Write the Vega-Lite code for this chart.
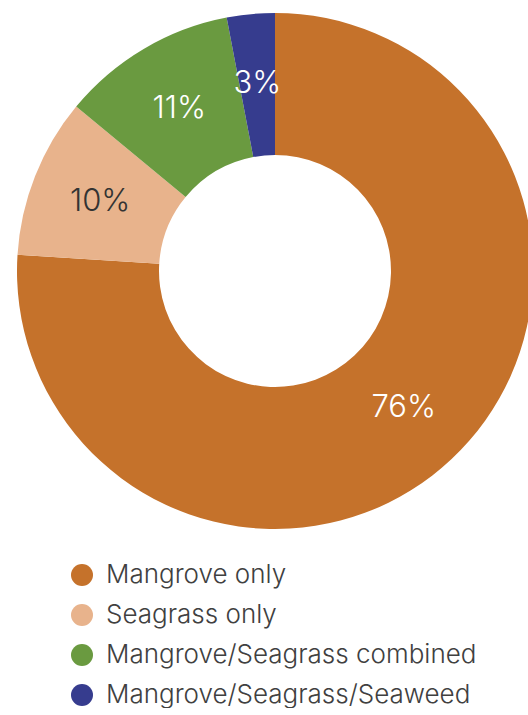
{
  "$schema": "https://vega.github.io/schema/vega-lite/v6.json",
  "width": 550,
  "height": 542,
  "padding": 0,
  "autosize": {"type": "pad"},
  "background": "white",
  "view": {"stroke": null},
  "config": {"font": "Inter"},
  "data": {
    "values": [
      {"category": "Mangrove only", "pct": 76, "order": 1},
      {"category": "Seagrass only", "pct": 10, "order": 2},
      {"category": "Mangrove/Seagrass combined", "pct": 11, "order": 3},
      {"category": "Mangrove/Seagrass/Seaweed", "pct": 3, "order": 4}
    ]
  },
  "encoding": {
    "theta": {"field": "pct", "type": "quantitative", "stack": true},
    "order": {"field": "order", "type": "quantitative"}
  },
  "layer": [
    {
      "mark": {"type": "arc", "outerRadius": 258, "innerRadius": 116},
      "encoding": {
        "color": {
          "field": "category",
          "type": "nominal",
          "scale": {
            "domain": ["Mangrove only", "Seagrass only", "Mangrove/Seagrass combined", "Mangrove/Seagrass/Seaweed"],
            "range": ["#C5722B", "#E8B38C", "#6A9A40", "#363C8E"]
          },
          "legend": {
            "orient": "none",
            "legendX": 69,
            "legendY": 562,
            "title": null,
            "symbolType": "circle",
            "symbolSize": 484,
            "symbolStrokeWidth": 0,
            "labelFontSize": 26,
            "labelFont": "Inter",
            "labelFontWeight": 300,
            "labelColor": "#404040",
            "labelOffset": 11,
            "rowPadding": 14,
            "labelLimit": 500
          }
        }
      }
    },
    {
      "mark": {"type": "text", "radius": 188, "fontSize": 31, "font": "Inter", "fontWeight": 300},
      "encoding": {
        "text": {"field": "pct_label"},
        "color": {
          "condition": {"test": "datum.category === 'Seagrass only'", "value": "#333333"},
          "value": "#FFFFFF"
        }
      },
      "transform": [{"calculate": "datum.pct + '%'", "as": "pct_label"}]
    }
  ]
}
